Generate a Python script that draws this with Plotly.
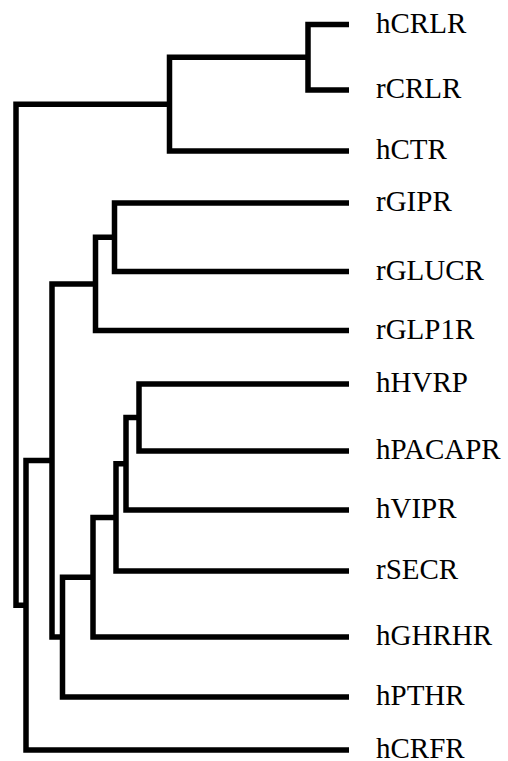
import plotly.graph_objects as go

# Leaf labels (top to bottom) and their vertical positions
leaves = ["hCRLR", "rCRLR", "hCTR", "rGIPR", "rGLUCR", "rGLP1R", "hHVRP",
          "hPACAPR", "hVIPR", "rSECR", "hGHRHR", "hPTHR", "hCRFR"]
leaf_pos = [24.5, 90, 151, 203, 271.5, 330.5, 384, 451, 510, 571, 637, 697, 750]

# Merges: (left child, right child, distance); new node ids start at len(leaves)
merge_left = [0, 13, 3, 15, 6, 17, 18, 19, 20, 16, 22, 14]
merge_right = [1, 2, 4, 5, 7, 8, 9, 10, 11, 21, 12, 23]
merge_dist = [41, 179.5, 234.5, 253.5, 210, 223, 233, 256, 286.5, 297, 323, 333]

n = len(leaves)
node_y = list(leaf_pos)
node_d = [0.0] * n
for l, r, d in zip(merge_left, merge_right, merge_dist):
    node_y.append((node_y[l] + node_y[r]) / 2)
    node_d.append(d)

fig = go.Figure()
for l, r, d in zip(merge_left, merge_right, merge_dist):
    fig.add_trace(go.Scatter(
        x=[node_d[l], d, d, node_d[r]],
        y=[node_y[l], node_y[l], node_y[r], node_y[r]],
        mode="lines",
        line=dict(color="black", width=5.5),
        hoverinfo="skip",
        showlegend=False,
    ))

for name, y in zip(leaves, leaf_pos):
    fig.add_annotation(
        x=-26, y=y, text=name, showarrow=False,
        xanchor="left", yanchor="middle", yshift=2, borderpad=0,
        font=dict(family="Liberation Serif", size=29, color="black"),
    )

fig.update_layout(
    width=508, height=761,
    margin=dict(l=0, r=0, t=0, b=0),
    paper_bgcolor="white", plot_bgcolor="white",
    xaxis=dict(range=[349, 349 - 508], visible=False, fixedrange=True),
    yaxis=dict(range=[761, 0], visible=False, fixedrange=True),
)

fig.write_html("out.html")
